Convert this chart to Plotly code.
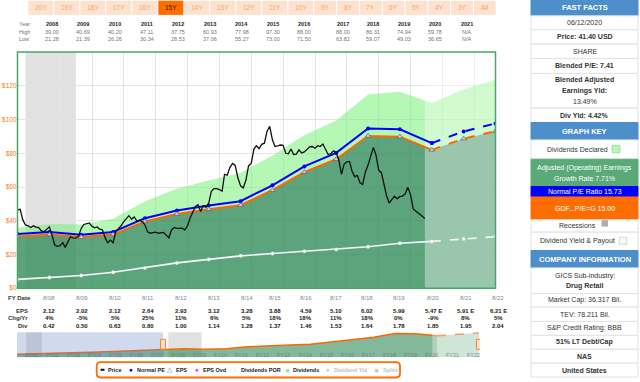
import plotly.graph_objects as go
import pandas as pd

W, H = 640, 382
FONT = "Arial, Liberation Sans, sans-serif"


def px(x):
    return x / W


def py(y):
    return 1 - y / H


# ---------------- data ----------------
fy_years = list(range(2007, 2023))
eps = [2.04, 2.12, 2.02, 2.12, 2.64, 2.93, 3.12, 3.28, 3.88, 4.59, 5.10, 6.02, 5.99, 5.47, 5.91, 6.21]
dividends = [0.35, 0.42, 0.50, 0.63, 0.80, 1.00, 1.14, 1.28, 1.37, 1.46, 1.53, 1.64, 1.78, 1.85, 1.95, 2.04]
hist_years = [2000, 2001, 2002, 2003, 2004, 2005, 2006]
hist_eps = [0.76, 0.86, 0.99, 1.14, 1.32, 1.52, 1.72]
normal_pe = 15.73
gdf_pe = 15.00
last_actual_fy = 2020

fy_date_text = ["8/08", "8/09", "8/10", "8/11", "8/12", "8/13", "8/14", "8/15", "8/16", "8/17",
                "8/18", "8/19", "8/20", "8/21", "8/22"]
eps_text = ["2.12", "2.02", "2.12", "2.64", "2.93", "3.12", "3.28", "3.88", "4.59", "5.10",
            "6.02", "5.99", "5.47 E", "5.91 E", "6.21 E"]
chg_text = ["4%", "-5%", "5%", "25%", "11%", "6%", "5%", "18%", "18%", "11%",
            "18%", "0%", "-9%", "8%", "5%"]
div_text = ["0.42", "0.50", "0.63", "0.80", "1.00", "1.14", "1.28", "1.37", "1.46", "1.53",
            "1.64", "1.78", "1.85", "1.95", "2.04"]

table_years = ["2008", "2009", "2010", "2011", "2012", "2013", "2014", "2015", "2016", "2017",
               "2018", "2019", "2020", "2021"]
table_high = ["39.00", "40.69", "40.20", "47.11", "37.75", "60.93", "77.98", "97.30", "88.00", "88.00",
              "86.31", "74.94", "59.78", "N/A"]
table_low = ["21.28", "21.39", "26.26", "30.34", "28.53", "37.06", "55.27", "73.00", "71.50", "63.82",
             "59.07", "49.03", "36.65", "N/A"]

price_start = "2007-08-31"
price_monthly = [
    46.4, 46.8, 40.5, 37.5, 37.0, 36.0, 37.0, 36.2, 36.0, 34.0,
    33.5, 34.8, 36.4, 31.5, 25.6, 24.8, 25.2, 27.0, 24.2, 27.5,
    30.5, 29.8, 29.7, 31.0, 35.5, 37.8, 38.5, 38.7, 36.8, 35.8,
    36.3, 35.0, 34.6, 30.0, 27.0, 28.5, 27.0, 33.5, 35.3, 37.0,
    39.5, 41.2, 43.0, 41.0, 42.3, 39.8, 40.3, 39.5, 37.5, 33.4,
    32.6, 32.9, 33.2, 32.6, 32.8, 33.1, 31.5, 29.9, 34.5, 36.0,
    35.5, 35.4, 35.6, 34.6, 37.0, 41.8, 45.0, 48.5, 49.5, 45.5,
    49.0, 48.0, 50.5, 57.5, 59.1, 59.1, 58.5, 57.5, 67.5, 67.0,
    71.5, 74.0, 72.8, 65.5, 60.7, 59.5, 64.0, 72.5, 74.0, 82.5,
    84.5, 82.8, 85.3, 86.0, 93.0, 96.0, 88.0, 84.0, 84.4, 84.9,
    84.7, 80.0, 79.7, 82.5, 79.2, 79.5, 82.0, 80.2, 80.8, 82.3,
    83.8, 84.0, 83.0, 84.5, 84.0, 85.5, 82.0, 79.3, 79.7, 81.5,
    80.5, 76.0, 67.5, 73.6, 74.9, 75.2, 69.5, 66.2, 66.9, 62.5,
    61.5, 68.8, 73.0, 79.0, 83.5, 79.0, 70.0, 68.5, 61.5, 55.0,
    50.5, 53.0, 54.6, 53.0, 54.4, 54.6, 56.0, 59.8, 55.5, 47.0,
    45.6, 44.4, 43.3, 41.6,
]
last_price_date = "2020-06-12"
last_price = 41.40

recessions = [("2001-03-01", "2001-11-30"), ("2007-12-01", "2009-06-30")]
range_buttons = ["20Y", "19Y", "18Y", "17Y", "16Y", "15Y", "14Y", "13Y", "12Y", "11Y", "10Y",
                 "9Y", "8Y", "7Y", "6Y", "5Y", "4Y", "3Y", "All"]
selected_button = "15Y"

# ---------------- derived ----------------
fy_dates = [f"{y}-08-31" for y in fy_years]
earn = [e * gdf_pe for e in eps]
normal = [e * normal_pe for e in eps]
earn_div = [(e + d) * gdf_pe for e, d in zip(eps, dividends)]
div_line = [d * gdf_pe for d in dividends]
split = fy_years.index(last_actual_fy)

price_dates = [(pd.Timestamp(price_start) + pd.offsets.MonthEnd(i)).strftime("%Y-%m-%d")
               for i in range(len(price_monthly))] + [last_price_date]
price_vals = price_monthly + [last_price]

nav_years = hist_years + fy_years
nav_dates = [f"{y}-08-31" for y in nav_years]
nav_earn = [e * gdf_pe for e in hist_eps + eps]
nav_split = nav_years.index(last_actual_fy)

x_start, x_end = fy_dates[0], fy_dates[-1]

fig = go.Figure()

# ---------- main chart ----------
DARK = "rgba(46,139,87,0.78)"
LIGHT = "rgba(120,240,120,0.55)"
ORANGE = "#ff6600"
BLUE = "#0000ff"

fig.add_trace(go.Scatter(x=fy_dates, y=earn, mode="lines", line=dict(width=0),
                         fill="tozeroy", fillcolor=DARK, hoverinfo="skip"))
fig.add_trace(go.Scatter(x=fy_dates, y=earn_div, mode="lines", line=dict(width=0),
                         fill="tonexty", fillcolor=LIGHT, hoverinfo="skip"))
# forecast lightening overlay
fig.add_trace(go.Scatter(x=[last_price_date, last_price_date, x_end, x_end],
                         y=[0, 140, 140, 0], mode="lines", line=dict(width=0),
                         fill="toself", fillcolor="rgba(255,255,255,0.38)", hoverinfo="skip"))

for sl, dash in ((slice(0, split + 1), "solid"), (slice(split, None), "dash")):
    fig.add_trace(go.Scatter(x=fy_dates[sl], y=div_line[sl], mode="lines+markers",
                             line=dict(color="#f6f6f6", width=1.6, dash=dash),
                             marker=dict(size=3.5, color="white", line=dict(color="#cccccc", width=0.5))))
    fig.add_trace(go.Scatter(x=fy_dates[sl], y=earn[sl], mode="lines",
                             line=dict(color=ORANGE, width=2, dash=dash)))
    fig.add_trace(go.Scatter(x=fy_dates[sl], y=normal[sl], mode="lines+markers",
                             line=dict(color=BLUE, width=2, dash=dash),
                             marker=dict(size=4, color=BLUE)))

fig.add_trace(go.Scatter(x=fy_dates, y=earn, mode="markers",
                         marker=dict(symbol="triangle-up", size=5, color="#d4d4d4",
                                     line=dict(color="#666666", width=0.8))))
fig.add_trace(go.Scatter(x=price_dates, y=price_vals, mode="lines",
                         line=dict(color="#111111", width=1.3)))

# ---------- navigator ----------
fig.add_trace(go.Scatter(x=nav_dates[:nav_split + 1], y=nav_earn[:nav_split + 1], mode="lines",
                         line=dict(color=ORANGE, width=1.5), fill="tozeroy",
                         fillcolor="rgba(46,139,87,0.6)", xaxis="x2", yaxis="y2"))
fig.add_trace(go.Scatter(x=nav_dates[nav_split:], y=nav_earn[nav_split:], mode="lines",
                         line=dict(color=ORANGE, width=1.5, dash="dash"), fill="tozeroy",
                         fillcolor="rgba(46,139,87,0.35)", xaxis="x2", yaxis="y2"))

shapes = []
annotations = []


def text(x, y, s, size=7, color="#333333", xanchor="center", bold=False, xref="paper"):
    if bold:
        s = f"<b>{s}</b>"
    annotations.append(dict(x=px(x) if xref == "paper" else x, y=py(y), xref=xref, yref="paper",
                            text=s, showarrow=False, xanchor=xanchor, yanchor="middle",
                            font=dict(family=FONT, size=size, color=color)))


def rect(x0, y0, x1, y1, fill, line=None, lw=1.0, layer="above"):
    shapes.append(dict(type="rect", xref="paper", yref="paper", x0=px(x0), x1=px(x1),
                       y0=py(y1), y1=py(y0), fillcolor=fill, layer=layer,
                       line=dict(color=line if line else fill, width=lw if line else 0)))


# recession bands
for r0, r1 in recessions:
    shapes.append(dict(type="rect", xref="x", yref="y", x0=r0, x1=r1, y0=0, y1=140,
                       fillcolor="rgba(200,200,200,0.55)", line=dict(width=0), layer="below"))
    shapes.append(dict(type="rect", xref="x2", yref="paper", x0=r0, x1=r1, y0=py(360), y1=py(335),
                       fillcolor="rgba(200,200,200,0.55)", line=dict(width=0), layer="below"))

# plot border
rect(17.5, 52.5, 495.5, 290.5, "rgba(0,0,0,0)", line="#4aa56a", lw=1.5)

# navigator mask, forecast, handles
shapes.append(dict(type="rect", xref="x2", yref="paper", x0="2000-09-25", x1=x_start,
                   y0=py(360), y1=py(335), fillcolor="rgba(102,133,194,0.3)", line=dict(width=0)))
shapes.append(dict(type="rect", xref="x2", yref="paper", x0=last_price_date, x1=x_end,
                   y0=py(360), y1=py(335), fillcolor="rgba(255,255,255,0.35)", line=dict(width=0)))
for d in (x_start, x_end):
    shapes.append(dict(type="rect", xref="x2", yref="paper", xsizemode="pixel", xanchor=d,
                       x0=-2.5, x1=2.5, y0=py(352), y1=py(342), fillcolor="#ffe3c8",
                       line=dict(color="#ff7f2a", width=1)))
for y in range(2001, 2023):
    annotations.append(dict(x=f"{y}-01-01", y=py(357.5), xref="x2", yref="paper",
                            text=f"FY{y % 100:02d}", showarrow=False, xanchor="left", yanchor="middle",
                            font=dict(family=FONT, size=5.5, color="rgba(110,110,110,0.8)")))

# ---------- range buttons ----------
for i, lab in enumerate(range_buttons):
    if i < 11:
        bx0, bw = 28.3 + i * 26, 25
    else:
        bx0, bw = 314.3 + (i - 11) * 22.8, 21.8
    sel = lab == selected_button
    rect(bx0, 0.7, bx0 + bw, 15, "#ff6d00" if sel else "#fde3cf")
    text(bx0 + bw / 2, 8, lab, size=6.5, color="#3a1a00" if sel else "#f3a36e")

# ---------- year high/low table ----------
col_x = [52, 83, 115, 146.7, 178, 210, 241.7, 273, 304, 342.7, 373, 404, 435, 467]
text(16.7, 24, "Year", size=5.5, color="#777777", xanchor="left")
text(16.7, 32, "High", size=5.5, color="#777777", xanchor="left")
text(16.7, 39.7, "Low", size=5.5, color="#777777", xanchor="left")
for cx, yr, hi, lo in zip(col_x, table_years, table_high, table_low):
    text(cx, 24, yr, size=5.5, color="#222222", bold=True)
    text(cx, 32, hi, size=5.5, color="#777777")
    text(cx, 39.7, lo, size=5.5, color="#777777")

# ---------- FY table below chart ----------
bot_x = [49.3, 82.3, 115.3, 148.3, 181.3, 214.3, 246.7, 275.3, 305.7, 336, 367.3, 398.7, 433.3, 465.7, 498.3]
text(6, 300, "FY Date", size=6, color="#333333", xanchor="left", bold=True)
text(29.5, 313.3, "EPS", size=6, color="#333333", xanchor="right", bold=True)
text(29.5, 320.7, "Chg/Yr", size=6, color="#333333", xanchor="right", bold=True)
text(29.5, 328.7, "Div", size=6, color="#333333", xanchor="right", bold=True)
for bx, d, e, c, dv in zip(bot_x, fy_date_text, eps_text, chg_text, div_text):
    text(bx, 300, d, size=6, color="#888888")
    text(bx, 313.3, e, size=6, color="#222222", bold=True)
    text(bx, 320.7, c, size=6, color="#222222", bold=True)
    text(bx, 328.7, dv, size=6, color="#222222", bold=True)

# ---------- legend box ----------
lx0, lx1, ly0, ly1, r = 96.7, 400, 365, 380.5, 4
path = (f"M {px(lx0 + r)},{py(ly0)} L {px(lx1 - r)},{py(ly0)} Q {px(lx1)},{py(ly0)} {px(lx1)},{py(ly0 + r)} "
        f"L {px(lx1)},{py(ly1 - r)} Q {px(lx1)},{py(ly1)} {px(lx1 - r)},{py(ly1)} "
        f"L {px(lx0 + r)},{py(ly1)} Q {px(lx0)},{py(ly1)} {px(lx0)},{py(ly1 - r)} "
        f"L {px(lx0)},{py(ly0 + r)} Q {px(lx0)},{py(ly0)} {px(lx0 + r)},{py(ly0)} Z")
shapes.append(dict(type="path", xref="paper", yref="paper", path=path, fillcolor="white",
                   line=dict(color="#ff6d00", width=1.8)))
shapes.append(dict(type="line", xref="paper", yref="paper", x0=px(100.5), x1=px(104.5),
                   y0=py(372.7), y1=py(372.7), line=dict(color="#111111", width=2)))
legend_items = [
    (None, None, 106, "Price", "#222222"),
    ("●", BLUE, 131, "Normal PE", "#222222"),
    ("△", "#777777", 170, "EPS", "#222222"),
    ("●", "#ff33ff", 197.3, "EPS Ovd", "#222222"),
    ("●", "#e2f6e2", 235, "Dividends POR", "#222222"),
    ("●", "#8fea8f", 287.3, "Dividends", "#222222"),
    ("●", "#d0d0d0", 328, "Dividend Yld", "#c0c0c0"),
    ("●", "#c8c8c8", 376.7, "Splits", "#c0c0c0"),
]
for sym, scol, sx, lab, tcol in legend_items:
    if sym:
        text(sx, 372.5, sym, size=6.5 if lab not in ("Dividends", "Splits") else 8.5, color=scol)
        tx = sx + 3.8
    else:
        tx = sx
    text(tx, 372.7, lab, size=5.5, color=tcol, xanchor="left", bold=True)

# ---------- right panel ----------
P0, P1 = 531, 638
PC = (P0 + P1) / 2
HEAD = "#4c8fcb"
panel_rows = [
    (0, 16, ["FAST FACTS"], HEAD, "white", True),
    (16, 30, ["06/12/2020"], "white", "#333333", False),
    (30, 44.5, ["Price: 41.40 USD"], "white", "#333333", True),
    (44.5, 59, ["SHARE"], "white", "#333333", False),
    (59, 74, ["Blended P/E: 7.41"], "white", "#333333", True),
    (74, 109, ["<b>Blended Adjusted</b>", "<b>Earnings Yld:</b>", "13.49%"], "white", "#333333", False),
    (109, 123.5, ["Div Yld: 4.42%"], "white", "#333333", True),
    (123.5, 141, ["GRAPH KEY"], HEAD, "white", True),
    (141, 160.5, [], "white", "#333333", False),
    (160.5, 188, ["Adjusted (Operating) Earnings", "Growth Rate 7.71%"], "#5aa978", "white", False),
    (188, 198.5, ["Normal P/E Ratio 15.73"], "#0000ff", "white", False),
    (198.5, 221.5, ["GDF...P/E=G 15.00"], "#ff6d00", "white", False),
    (221.5, 234, [], "white", "#333333", False),
    (234, 252.5, [], "white", "#333333", False),
    (252.5, 270, ["COMPANY INFORMATION"], HEAD, "white", True),
    (270, 296, ["GICS Sub-industry:", "<b>Drug Retail</b>"], "white", "#333333", False),
    (296, 309.5, ["Market Cap: 36.317 Bil."], "white", "#333333", False),
    (309.5, 324, ["TEV: 78.211 Bil."], "white", "#333333", False),
    (324, 338, ["S&P Credit Rating: BBB"], "white", "#333333", False),
    (338, 352, ["51% LT Debt/Cap"], "white", "#333333", True),
    (352, 366, ["NAS"], "white", "#333333", True),
    (366, 380, ["United States"], "white", "#333333", True),
]
for y0, y1, lines, bg, fg, bold in panel_rows:
    rect(P0, y0, P1, y1, bg, line="#e2e2e2" if bg == "white" else bg, lw=1)
    n = len(lines)
    yc = (y0 + y1) / 2
    for k, ln in enumerate(lines):
        yy = yc + (k - (n - 1) / 2) * 10.5
        sz = 7.5 if bg == HEAD else 7
        text(PC, yy, ln, size=sz, color=fg, bold=bold)

# graph-key rows with swatches
text(577.5, 150.5, "Dividends Declared", size=7, color="#333333")
rect(612, 146.5, 620, 154, "#b8f5b8", line="#9ad49a", lw=0.8)
text(577.5, 227.5, "Recessions", size=7, color="#333333")
rect(601.5, 221.8, 608, 228.4, "#b0b0b0")
text(577.5, 243, "Dividend Yield & Payout", size=7, color="#333333")
rect(619.3, 239, 626.7, 246.3, "#f2faf2", line="#c8dcc8", lw=0.8)

# ---------- layout ----------
fig.update_layout(
    width=W, height=H, margin=dict(l=0, r=0, t=0, b=0),
    paper_bgcolor="white", plot_bgcolor="white", showlegend=False,
    xaxis=dict(type="date", domain=[px(17.5), px(495.5)], range=[x_start, x_end],
               tickvals=[f"{y}-01-01" for y in range(2008, 2023)], showticklabels=False,
               showgrid=True, gridcolor="#e4e4e4", gridwidth=1, zeroline=False, ticks=""),
    yaxis=dict(domain=[py(290.5), py(52.5)], range=[0, 140],
               tickvals=[0, 20, 40, 60, 80, 100, 120, 140],
               ticktext=["$0", "$20", "$40", "$60", "$80", "$100", "$120", ""],
               tickfont=dict(family=FONT, size=6.5, color="#ff7a1a"),
               showgrid=True, gridcolor="#e4e4e4", zeroline=False, ticks=""),
    xaxis2=dict(type="date", domain=[px(17), px(480)], range=["2000-09-25", "2022-09-17"],
                showticklabels=False, showgrid=False, zeroline=False, anchor="y2"),
    yaxis2=dict(domain=[py(360), py(335)], range=[0, 95], showticklabels=False,
                showgrid=False, zeroline=False, anchor="x2"),
    shapes=shapes, annotations=annotations,
)

fig.write_html("out.html", config={"displayModeBar": False},
               post_script="document.body.style.margin='0';document.body.style.overflow='hidden';")
